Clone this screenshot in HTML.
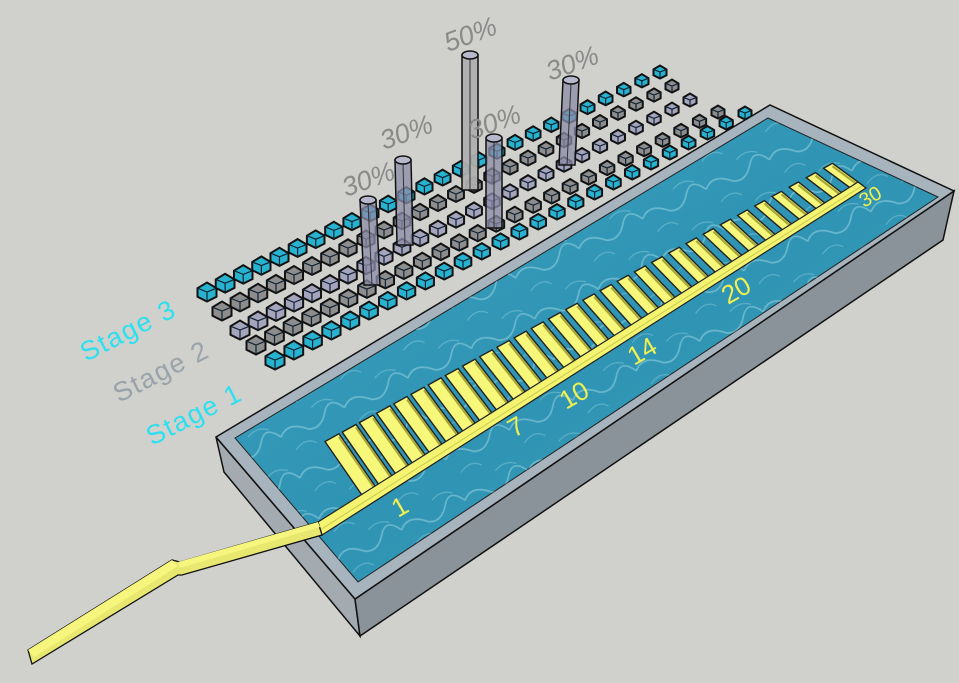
<!DOCTYPE html>
<html><head><meta charset="utf-8"><style>
html,body{margin:0;padding:0;background:#d0d0cc;}
svg{display:block;}
text{font-family:"Liberation Sans","DejaVu Sans",sans-serif;}
</style></head><body>
<svg id="s" width="959" height="683" viewBox="0 0 959 683" xmlns="http://www.w3.org/2000/svg">
<defs>
<linearGradient id="w" x1="0" y1="0" x2="1" y2="1">
<stop offset="0" stop-color="#3ea6c2"/><stop offset="0.5" stop-color="#2f93b3"/><stop offset="1" stop-color="#3aa0bd"/>
</linearGradient>
<pattern id="rip" width="70" height="45" patternUnits="userSpaceOnUse" patternTransform="rotate(-25)">
<path d="M0 20 Q12 8 28 24 Q40 30 50 16 T70 20" stroke="#b5e2ec" stroke-width="1.6" fill="none" opacity="0.45"/>
<path d="M8 38 Q22 30 30 40 M40 6 Q52 0 62 8" stroke="#b5e2ec" stroke-width="1.2" fill="none" opacity="0.35"/>
</pattern>
</defs>
<rect width="959" height="683" fill="#d0d0cc"/>
<g font-size="27" letter-spacing="1.5">
<text fill="#2ee0ee" transform="translate(86,362) rotate(-27)">Stage 3</text>
<text fill="#9aa3aa" transform="translate(119,403) rotate(-27)">Stage 2</text>
<text fill="#2ee0ee" transform="translate(152,446) rotate(-27)">Stage 1</text>
</g>
<g id="cubes"></g>
<g id="pillars"></g>
<polygon points="216,437 355,599 360,636 224,472" fill="#a3abb1" stroke="#111" stroke-width="1.5"/>
<polygon points="355,599 954,191 943,240 360,636" fill="#8b939a" stroke="#111" stroke-width="1.5"/>
<polygon points="216,437 770,105 954,191 355,599" fill="#a7b4bd" stroke="#111" stroke-width="1.5"/>
<polygon points="235,438 768,118 938,197 358,582" fill="url(#w)" stroke="#222" stroke-width="1"/>
<polygon points="235,438 768,118 938,197 358,582" fill="url(#rip)"/>
<g id="comb"></g>
<polygon points="28,650 172,560 180,562 318,522 322,535 182,575 178,575 32,664" fill="#e8e870" stroke="#111" stroke-width="1.3"/>
<polygon points="28,650 172,560 178,566 34,657" fill="#f6f67e"/>
<polygon points="178,562 318,522 320,527 180,568" fill="#f6f67e"/>
<g fill="#f0f050" font-size="26">
<text transform="translate(398,518) rotate(-30)">1</text>
<text transform="translate(514,438) rotate(-30)">7</text>
<text transform="translate(566,410) rotate(-30)">10</text>
<text transform="translate(634,366) rotate(-30)">14</text>
<text transform="translate(728,305) rotate(-30)">20</text>
<text transform="translate(864,208) rotate(-30)" font-size="20">30</text>
</g>
<g fill="#8a8a8a" font-size="27" font-style="italic">
<text transform="translate(346,197) rotate(-20)">30%</text>
<text transform="translate(384,150) rotate(-20)">30%</text>
<text transform="translate(448,52) rotate(-20)">50%</text>
<text transform="translate(472,140) rotate(-20)">30%</text>
<text transform="translate(550,81) rotate(-20)">30%</text>
</g>
</svg>
<script>
(function(){
var NS="http://www.w3.org/2000/svg";
function el(t,a,p){var e=document.createElementNS(NS,t);for(var k in a)e.setAttribute(k,a[k]);p.appendChild(e);return e;}
var cg=document.getElementById("cubes");
var rows=[[207,292,660,72,"#27b3cf"],[222,311,672,86,"#8d8d8d"],[240,330,690,100,"#a4a4bc"],[256,345,718,112,"#8d8d8d"],[275,360,745,113,"#27b3cf"]];
var n=26;
rows.forEach(function(r){
 for(var i=0;i<n;i++){
  var t=i/(n-1),x=r[0]+(r[2]-r[0])*t,y=r[1]+(r[3]-r[1])*t,s=9.5-3*t;
  el("polygon",{points:[x-s,y-s*0.4,x,y-s,x+s,y-s*0.4,x+s,y+s*0.5,x,y+s,x-s,y+s*0.5].join(","),fill:r[4],stroke:"#111","stroke-width":2},cg);
  el("path",{d:"M"+(x-s)+" "+(y-s*0.4)+"L"+x+" "+y+"L"+(x+s)+" "+(y-s*0.4)+"M"+x+" "+y+"L"+x+" "+(y+s),stroke:"#123","stroke-width":1.2,fill:"none"},cg);
 }
});
var pg=document.getElementById("pillars");
[[368,200,372,285,"rgba(140,140,170,0.75)"],[403,160,405,245,"rgba(140,140,170,0.75)"],[470,55,470,190,"rgba(175,175,175,0.95)"],[494,138,494,228,"rgba(140,140,170,0.75)"],[571,80,567,165,"rgba(140,140,170,0.75)"]].forEach(function(p){
 var w=8;
 el("polygon",{points:[p[0]-w,p[1],p[0]+w,p[1],p[2]+w,p[3],p[2]-w,p[3]].join(","),fill:p[4],stroke:"#111","stroke-width":1.5},pg);
 el("line",{x1:p[0],y1:p[1]+3,x2:p[2],y2:p[3],stroke:"#333","stroke-width":1},pg);
 el("ellipse",{cx:p[0],cy:p[1],rx:w,ry:4,fill:"#b8b8cc",stroke:"#111","stroke-width":1.5},pg);
});
var cb=document.getElementById("comb");
var sx0=372,sy0=496,sx1=858,sy1=188;
var N=30;
for(var i=0;i<N;i++){
 var t=i/(N-1),x=sx0+(sx1-sx0)*t,y=sy0+(sy1-sy0)*t;
 var dx=-40+10*t,dy=-58+36*t,hw=7-2.5*t;
 el("polygon",{points:[x-hw,y+hw*0.5,x+hw,y-hw*0.6,x+dx+hw,y+dy-hw*0.6,x+dx-hw,y+dy+hw*0.5].join(","),fill:"#f7f77a",stroke:"#222","stroke-width":1.4},cb);
 el("line",{x1:x+hw,y1:y-hw*0.6+3,x2:x+dx+hw,y2:y+dy-hw*0.6+3,stroke:"#a8a838","stroke-width":2.2},cb);
}
el("polygon",{points:"318,522 858,182 866,188 322,535",fill:"#f4f470",stroke:"#222","stroke-width":1.2},cb);
el("line",{x1:320,y1:530,x2:862,y2:186,stroke:"#c8c850","stroke-width":1},cb);
})();
</script>
</body></html>
